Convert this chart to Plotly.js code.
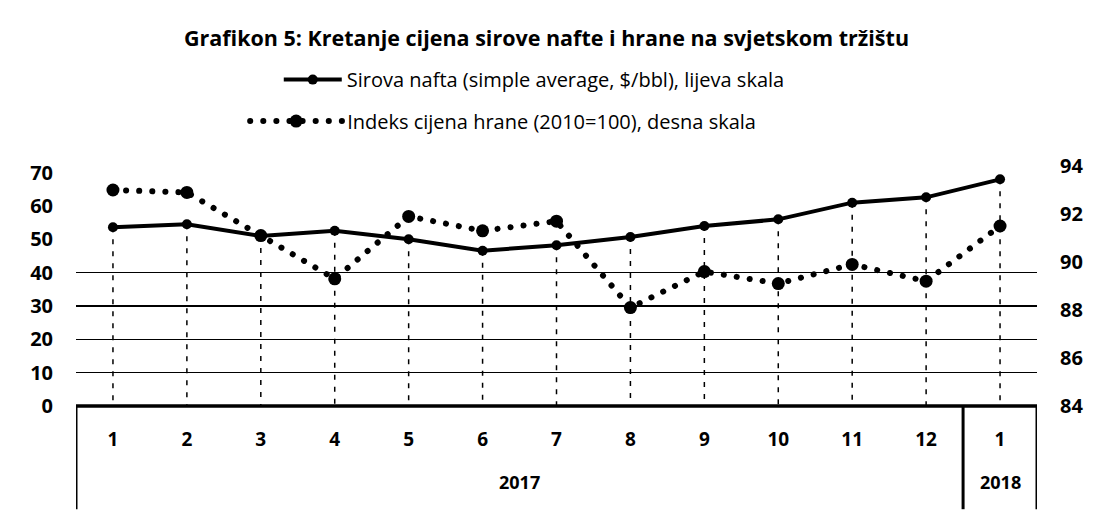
<!DOCTYPE html>
<html>
<head>
<meta charset="utf-8">
<script src="https://cdn.plot.ly/plotly-3.0.1.min.js"></script>
<style>html,body{margin:0;padding:0;background:#fff;}#chart{width:1093px;height:510px;}</style>
</head>
<body>
<div id="chart"></div>
<script>
// ---- data ----
const monthLabels = ['1','2','3','4','5','6','7','8','9','10','11','12','1'];
const yearLabels = ['2017','2018'];
const yearCounts = [12, 1];
const oilPrice = [53.6, 54.5, 51.0, 52.6, 50.0, 46.6, 48.2, 50.7, 54.0, 56.0, 61.0, 62.6, 68.0];
const foodIndex = [93.0, 92.9, 91.1, 89.3, 91.9, 91.3, 91.7, 88.1, 89.6, 89.1, 89.9, 89.2, 91.5];
const leftTicks = [0, 10, 20, 30, 40, 50, 60, 70];
const rightTicks = [84, 86, 88, 90, 92, 94];
const gridTicks = [10, 20, 30, 40];
const titleText = 'Grafikon 5: Kretanje cijena sirove nafte i hrane na svjetskom tržištu';
const oilName = 'Sirova nafta (simple average, $/bbl), lijeva skala';
const foodName = 'Indeks cijena hrane (2010=100), desna skala';

const idx = monthLabels.map((_, i) => i);
const FONT = 'Open Sans, DejaVu Sans, sans-serif';

// drop lines from oil series to zero
const dropX = [], dropY = [];
idx.forEach(i => { dropX.push(i, i, null); dropY.push(oilPrice[i], 0, null); });

const traces = [
  {x: dropX, y: dropY, mode: 'lines', line: {color: '#000', width: 1.5, dash: '5px,7px'},
   showlegend: false, hoverinfo: 'skip'},
  {x: idx, y: oilPrice, name: oilName, mode: 'lines+markers', legend: 'legend',
   line: {color: '#000', width: 4}, marker: {color: '#000', size: 10}},
  {x: idx, y: foodIndex, name: foodName, mode: 'lines+markers', yaxis: 'y2', legend: 'legend2',
   line: {color: '#000', width: 6, dash: '0.1px,13px'}, marker: {color: '#000', size: 13}},
  {x: [idx[0]], y: [gridTicks[0]], yaxis: 'y3', mode: 'markers', marker: {opacity: 0},
   showlegend: false, hoverinfo: 'skip'}
];

// year group annotations and frame shapes
const annotations = [];
const shapes = [];
let start = 0;
const frameBottom = -0.43;
shapes.push({type: 'line', xref: 'x', yref: 'paper', x0: -0.5, x1: idx.length - 0.5, y0: 0, y1: 0,
             line: {color: '#000', width: 3.5}});
shapes.push({type: 'line', xref: 'x', yref: 'paper', x0: -0.5, x1: -0.5, y0: 0, y1: frameBottom,
             line: {color: '#000', width: 3}});
yearLabels.forEach((lab, k) => {
  const end = start + yearCounts[k];
  annotations.push({xref: 'x', yref: 'paper', x: (start + end - 1) / 2, y: -0.317, yanchor: 'middle', text: lab,
    showarrow: false, font: {family: FONT, size: 18, color: '#000', weight: 'bold'}});
  shapes.push({type: 'line', xref: 'x', yref: 'paper', x0: end - 0.5, x1: end - 0.5, y0: 0, y1: frameBottom,
               line: {color: '#000', width: 3}});
  start = end;
});

const tickFont = {family: FONT, size: 20, color: '#000', weight: 'bold'};
const legFont = {family: FONT, size: 20, color: '#000'};
const layout = {
  width: 1093, height: 510,
  margin: {l: 76, r: 56, t: 166, b: 104},
  paper_bgcolor: '#fff', plot_bgcolor: '#fff',
  font: {family: FONT, color: '#000'},
  title: {text: titleText, x: 0.5, xref: 'container', y: 0.925, yref: 'container', yanchor: 'middle',
          font: {family: FONT, size: 21.5, color: '#000', weight: 'bold'}},
  xaxis: {range: [-0.5, idx.length - 0.5], tickvals: idx, ticktext: monthLabels, showgrid: false,
          zeroline: false, showline: false, ticks: '', ticklabelstandoff: 20,
          tickfont: {family: FONT, size: 19, color: '#000', weight: 'bold'}, fixedrange: true},
  yaxis: {range: [0, 72], tickvals: leftTicks, showgrid: false, zeroline: false, showline: false,
          ticks: '', ticklabelstandoff: 22, tickfont: tickFont},
  yaxis2: {range: [84, 94], tickvals: rightTicks, overlaying: 'y', side: 'right', showgrid: false,
           zeroline: false, showline: false, ticks: '', ticklabelstandoff: 22, tickfont: tickFont},
  yaxis3: {range: [0, 72], tickvals: gridTicks, overlaying: 'y', showgrid: true, gridcolor: '#000',
           gridwidth: 1.2, showticklabels: false, zeroline: false, ticks: ''},
  legend: {x: 0.211, xanchor: 'left', y: 1.36, yanchor: 'middle', yref: 'paper', itemwidth: 58,
           font: legFont, bgcolor: 'rgba(0,0,0,0)'},
  legend2: {x: 0.176, xanchor: 'left', y: 1.187, yanchor: 'middle', yref: 'paper', itemwidth: 92,
           font: legFont, bgcolor: 'rgba(0,0,0,0)'},
  shapes: shapes,
  annotations: annotations,
  showlegend: true
};

Plotly.newPlot('chart', traces, layout, {staticPlot: true}).then(gd => {
  // round caps for the dotted food series and its legend symbol
  gd.querySelectorAll('path.js-line').forEach(p => {
    if ((p.style.strokeDasharray || '').indexOf('0.1') === 0) p.style.strokeLinecap = 'round';
  });
});
</script>
</body>
</html>
